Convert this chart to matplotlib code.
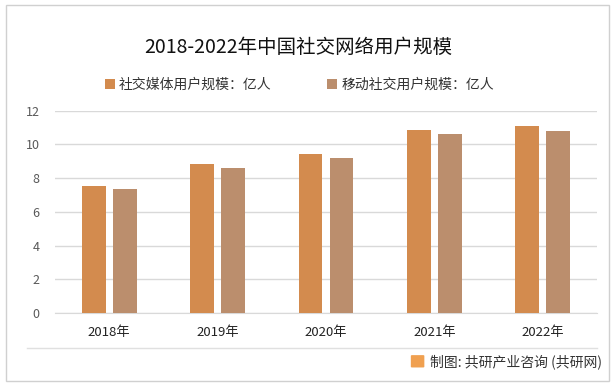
import numpy as np
import matplotlib.pyplot as plt
from matplotlib.patches import Rectangle, FancyBboxPatch
from matplotlib.lines import Line2D

plt.rcParams['font.family'] = ['Noto Sans CJK SC', 'DejaVu Sans']

# data
years = ['2018年', '2019年', '2020年', '2021年', '2022年']
social_media_users = [7.53, 8.85, 9.43, 10.86, 11.09]
mobile_social_users = [7.35, 8.60, 9.19, 10.62, 10.80]
series_names = ['社交媒体用户规模：亿人', '移动社交用户规模：亿人']
title = '2018-2022年中国社交网络用户规模'
source = '制图: 共研产业咨询 (共研网)'

c1 = '#D38B4E'
c2 = '#BB8E6D'

fig = plt.figure(figsize=(6.15, 3.86), dpi=100)
ax = fig.add_axes([0.0894, 0.189, 0.8813, 0.5242])

x = np.arange(len(years))
w = 0.22
ax.bar(x - 0.143, social_media_users, w, color=c1, label=series_names[0], zorder=3)
ax.bar(x + 0.143, mobile_social_users, w, color=c2, label=series_names[1], zorder=3)

ax.set_xlim(-0.5, len(years) - 0.5)
ax.set_ylim(0, 12)
ax.set_yticks(range(0, 13, 2))
ax.set_xticks(x)
ax.set_xticklabels(years, fontsize=9.5, color='#222222')
ax.tick_params(axis='y', labelsize=9, colors='#595959', length=0, pad=11)
ax.tick_params(axis='x', length=0, pad=9)
ax.grid(axis='y', color='#D9D9D9', linewidth=1, zorder=0)
for s in ['top', 'right', 'left']:
    ax.spines[s].set_visible(False)
ax.spines['bottom'].set_color('#D9D9D9')

fig.text(0.485, 0.878, title, ha='center', va='center', fontsize=14, color='#111111')

fig.legend(loc='center', bbox_to_anchor=(0.487, 0.78), ncol=2, frameon=False,
           fontsize=10, handlelength=0.7, handleheight=0.7, handletextpad=0.3,
           columnspacing=4.0, labelcolor='#333333')

# outer frame, separator, source line
fig.add_artist(Rectangle((0.009, 0.013), 0.981, 0.975, transform=fig.transFigure,
                         fill=False, edgecolor='#D0D0D0', linewidth=1))
fig.add_artist(Line2D([0.044, 0.971], [0.098, 0.098], transform=fig.transFigure,
                      color='#E0E0E0', linewidth=1))
fig.add_artist(FancyBboxPatch((0.670, 0.050), 0.018, 0.028, boxstyle='round,pad=0.002',
                              transform=fig.transFigure, facecolor='#F0A050',
                              edgecolor='none'))
fig.text(0.979, 0.062, source, ha='right', va='center', fontsize=10, color='#333333')

fig.savefig('out.png', dpi=100)
